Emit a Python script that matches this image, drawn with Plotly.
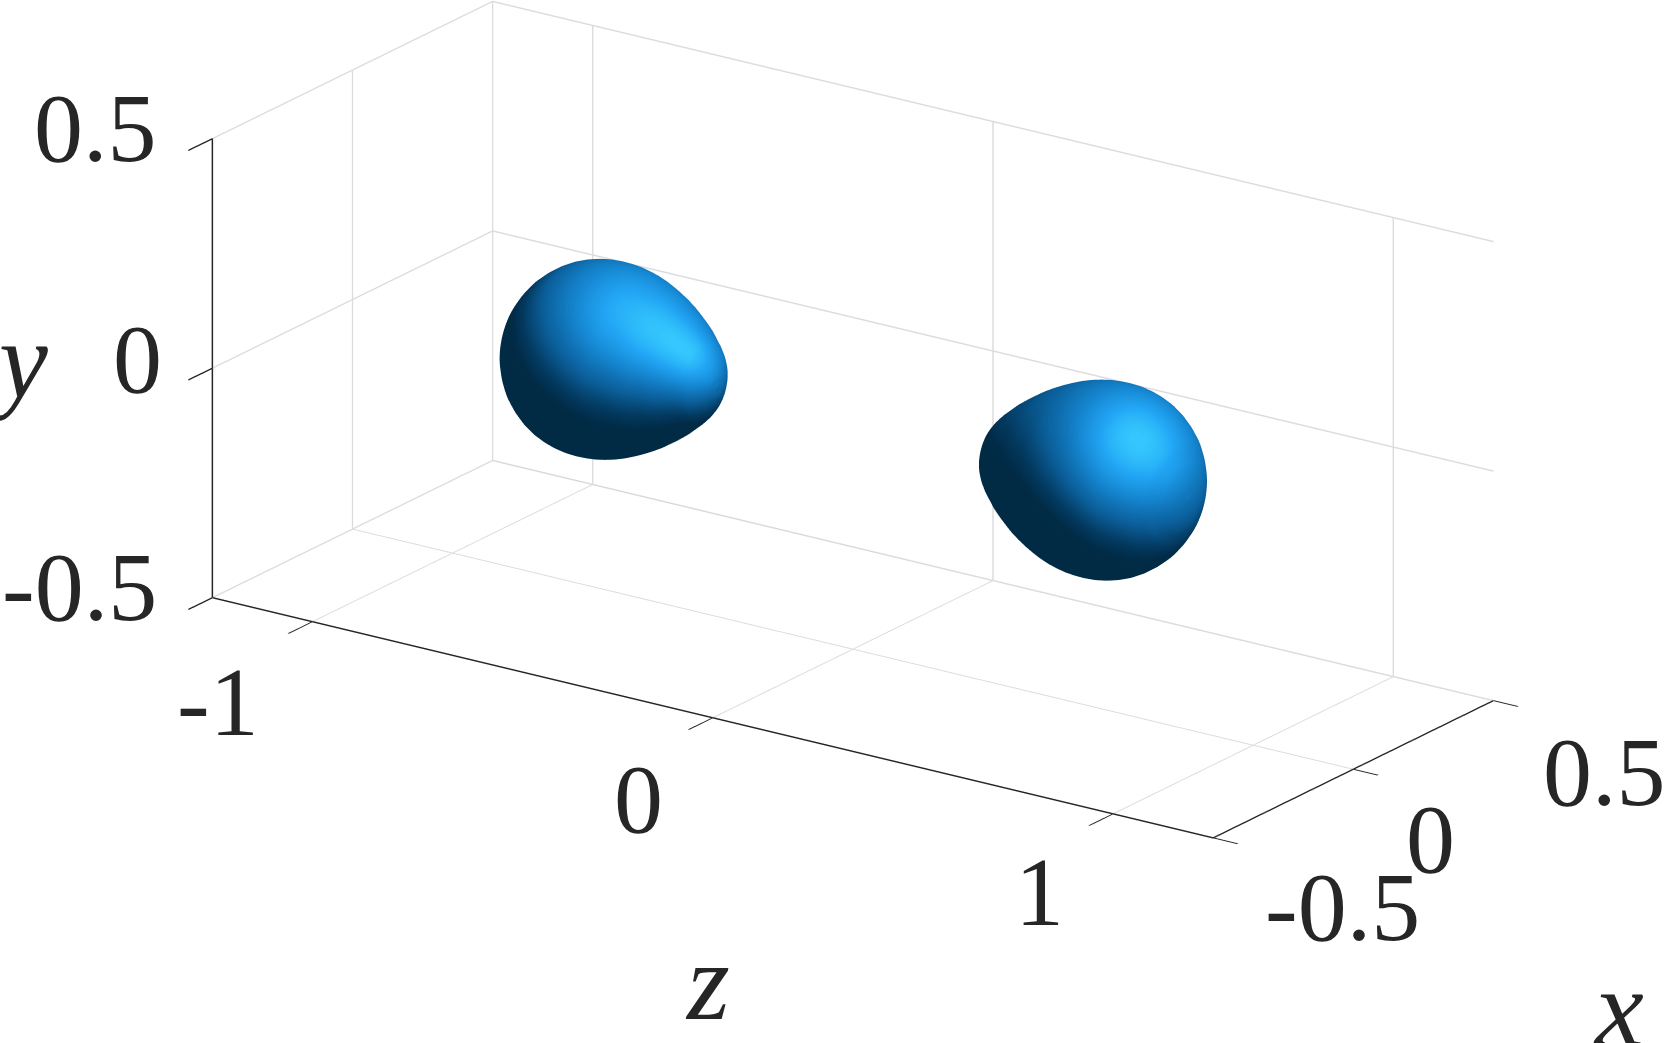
import numpy as np
import plotly.graph_objects as go

# droplet centres along the z axis (data)
drop_z = [-0.632, 0.634]
drop_dir = [1, -1]
# droplet profile: distance along axis from bulk centre, radius at that station
profile_s = [-0.205,-0.204,-0.202,-0.199,-0.195,-0.19,-0.18,-0.17,-0.155,-0.14,-0.12,-0.10,-0.08,-0.06,-0.04,-0.02,0,
             0.018,0.036,0.053,0.071,0.089,0.106,0.124,0.142,0.16,0.177,0.195,0.213,0.23,0.244,0.258,0.267,0.275,0.282,0.287,0.291,0.293,0.294]
profile_r = [0,0.020,0.035,0.049,0.063,0.077,0.098,0.115,0.134,0.150,0.166,0.179,0.189,0.196,0.201,0.204,0.205,
             0.2045,0.2030,0.2000,0.1960,0.1905,0.1840,0.1765,0.1680,0.1585,0.1480,0.1365,0.1240,0.1100,0.0985,0.0850,0.0745,0.0620,0.0495,0.0370,0.0255,0.0150,0]
angles_deg = list(range(0,361,3))
z_ticks=[-1,0,1]; z_labels=['-1','0','1']
x_ticks=[-0.5,0,0.5]; x_labels=['-0.5','0','0.5']
y_ticks=[-0.5,0,0.5]; y_labels=['-0.5','0','0.5']
z_range=[-1.25,1.25]; x_range=[-0.5,0.5]; y_range=[-0.5,0.5]
TXT='#262626'; FONT='Liberation Serif'
drop_colors=[[0,'#012a45'],[0.12,'#033a60'],[0.3,'#0b5f9a'],[0.55,'#1585cf'],[0.78,'#22a6f5'],[1,'#3ad0ff']]

# view: orthographic basis in scene axes (z, x, y of the data)
right=np.array([0.82,0.574,0.0]); up=np.array([-0.197,0.28,0.939]); view=np.array([0.539,-0.77,0.343])
light=0.48*right+0.60*up+0.64*view; light/=np.linalg.norm(light)
half=light+view; half/=np.linalg.norm(half)

s=np.array(profile_s); r=np.array(profile_r); a=np.radians(angles_deg)
S,A=np.meshgrid(s,a); R=np.meshgrid(r,a)[0]
ds=np.gradient(s); dr=np.gradient(r); nl=np.hypot(ds,dr); ns=(-dr/nl); nr=(ds/nl)
NS=np.meshgrid(ns,a)[0]; NR=np.meshgrid(nr,a)[0]
fig=go.Figure()
for zc,d in zip(drop_z,drop_dir):
    N=np.stack([d*NS,NR*np.cos(A),NR*np.sin(A)],-1)
    lamb=np.clip(N@light,0,1); spec=np.clip(N@half,0,1)**6
    fig.add_trace(go.Surface(x=zc+d*S,y=R*np.cos(A),z=R*np.sin(A),
        surfacecolor=0.62*lamb+0.38*spec,cmin=0,cmax=1,colorscale=drop_colors,showscale=False,
        lighting=dict(ambient=1,diffuse=0,specular=0,roughness=1,fresnel=0)))
# darker back edge of the floor
fig.add_trace(go.Scatter3d(x=z_range,y=[x_range[1]]*2,z=[y_range[0]]*2,mode='lines',
    line=dict(color='#bdbdbd',width=2),hoverinfo='skip',showlegend=False))
def ax(tv,tt,rng,tl):
    return dict(range=rng,autorange=False,tickmode='array',tickvals=tv,ticktext=tt,
        showbackground=False,showgrid=True,gridcolor='#dcdcdc',gridwidth=3,zeroline=False,
        showline=True,linecolor=TXT,linewidth=3,ticks='outside',ticklen=tl,tickcolor=TXT,tickwidth=3,
        showticklabels=False,showspikes=False,title=dict(text=''))
notes=[]
def note(z,x,y,t,dx,dy,size=98,anchor='center',italic=False):
    notes.append(dict(x=z,y=x,z=y,text=f'<i>{t}</i>' if italic else t,showarrow=False,xshift=dx,yshift=dy,
        xanchor=anchor,yanchor='middle',font=dict(family=FONT,size=size,color=TXT)))
for v,t,dx,dy in zip(y_ticks,y_labels,[-53,-48,-53],[11,9,10.5]):
    note(z_range[0],x_range[0],v,t,dx,dy,anchor='right')
for v,t,dx,dy in zip(z_ticks,z_labels,[-94,-74,-74],[-80,-81,-78]):
    note(v,x_range[0],y_range[0],t,dx,dy)
for v,t,dx,dy in zip(x_ticks,x_labels,[129,77,111],[-69,-70,-71]):
    note(z_range[1],v,y_range[0],t,dx,dy)
note(0,x_range[0],y_range[0],'z',-5,-264,size=110,italic=True)
note(z_range[1],0,y_range[0],'x',265,-239,size=110,italic=True)
note(z_range[0],x_range[0],0,'y',-194,7,size=110,italic=True)

zoom=0.937
c=np.array([0.0055,-0.0778,-0.1835])
eye=view*2.2+c
fig.update_layout(width=1664,height=1043,margin=dict(l=0,r=0,t=0,b=0),paper_bgcolor='white',
    scene=dict(domain=dict(x=[0,1],y=[0,1]),aspectmode='manual',aspectratio=dict(x=2.5*zoom,y=zoom,z=zoom),
        xaxis=ax(z_ticks,z_labels,z_range,30),yaxis=ax(x_ticks,x_labels,x_range,42),zaxis=ax(y_ticks,y_labels,y_range,42),
        annotations=notes,
        camera=dict(eye=dict(x=eye[0],y=eye[1],z=eye[2]),center=dict(x=c[0],y=c[1],z=c[2]),up=dict(x=0,y=0,z=1),projection=dict(type='orthographic'))))
fig.write_html("out.html",config={'displayModeBar':False},post_script="document.body.style.margin='0';document.documentElement.style.overflow='hidden';")
